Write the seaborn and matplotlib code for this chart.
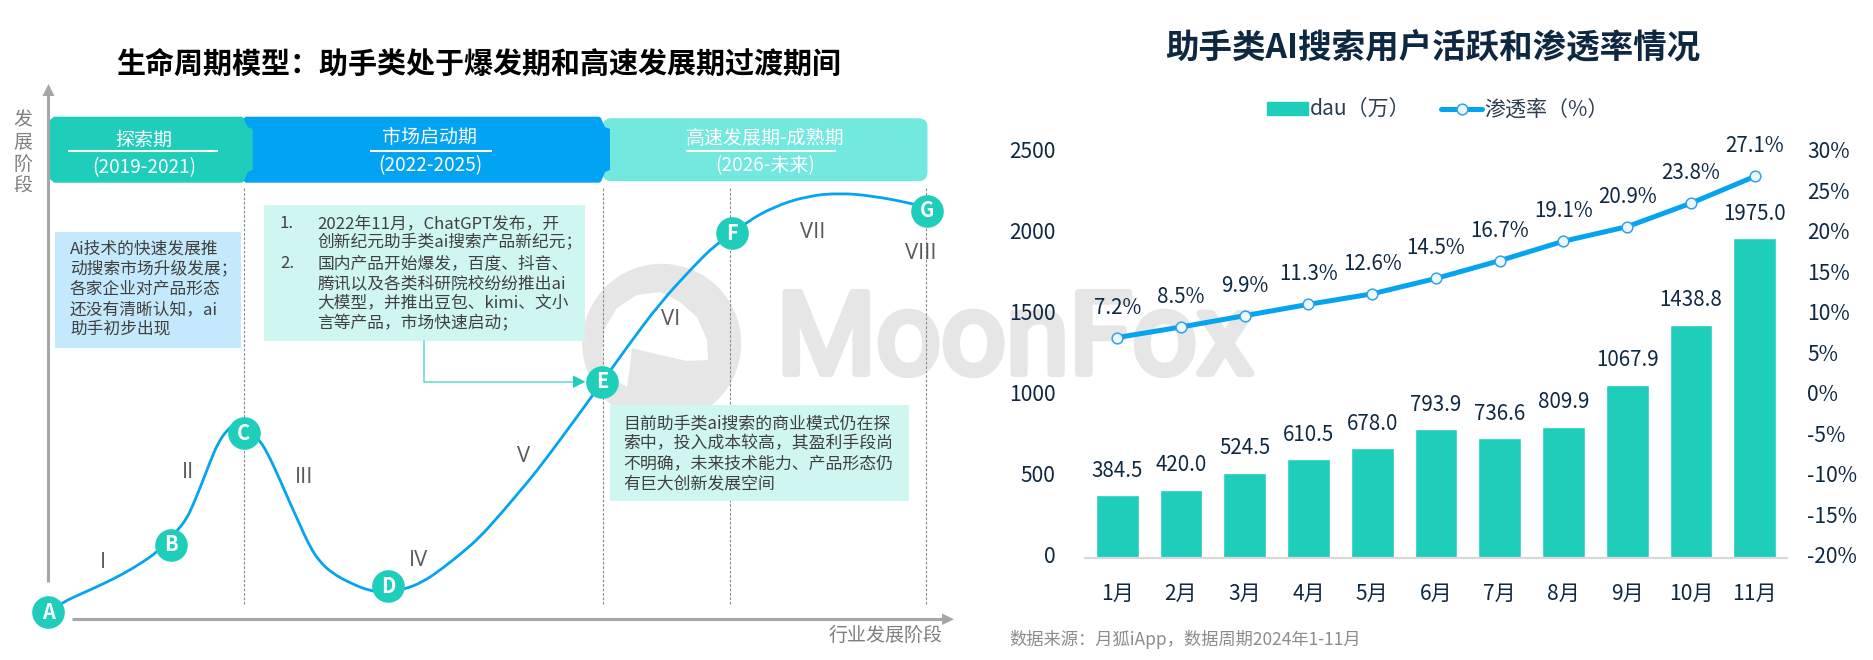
import matplotlib
matplotlib.use("Agg")
import matplotlib.pyplot as plt
from matplotlib.patches import Polygon, Rectangle, FancyBboxPatch, Patch, PathPatch
from matplotlib.path import Path
from matplotlib.lines import Line2D
from matplotlib.transforms import ScaledTranslation
import matplotlib.patheffects as pe
import seaborn as sns
import pandas as pd

sns.set_theme(style="white")
plt.rcParams['font.family'] = ['Noto Sans CJK SC', 'DejaVu Sans']
plt.rcParams['axes.unicode_minus'] = False

# ---- right chart data
months = ['1月','2月','3月','4月','5月','6月','7月','8月','9月','10月','11月']
dau = [384.5,420.0,524.5,610.5,678.0,793.9,736.6,809.9,1067.9,1438.8,1975.0]
rate = [7.2,8.5,9.9,11.3,12.6,14.5,16.7,19.1,20.9,23.8,27.1]
left_ticks = [0,500,1000,1500,2000,2500]
right_ticks = [-20,-15,-10,-5,0,5,10,15,20,25,30]

# ---- left diagram data (the diagram has no value scale: read in picture units)
curve_x = [48,63,83,103,123,143,157,167,178,187,193,202,210,218,227,235,244,260,270,280,290,300,310,320,332,350,370,388,405,423,443,463,480,497,510,520,536,560,593,627,660,693,715,747,773,807,840,873,910,927]
curve_y = [612,602,593,584,574,562,552,541,530,518,505,483,462,443,430,424,425,440,458,480,503,525,547,562,573,583,591,593,589,582,568,552,537,518,503,491,472,440,395,347,303,267,245,222,207,196,193,196,203,208]
stage_names = list('ABCDEFG')
stage_x = [48.3,171,243.7,388.3,602.3,731.7,927]
stage_y = [612.3,544.7,433.3,586.3,382,233.3,210.7]
roman = ['I','II','III','IV','V','VI','VII','VIII']
roman_x = [103,187.7,304,419,524,670.7,813,920.7]
roman_y = [562,472.7,477.3,560.7,456.7,319.3,233,253.3]
divider_x = [244.3,603.3,730.3,926.3]
phase_names = ['探索期','市场启动期','高速发展期-成熟期']
phase_years = ['(2019-2021)','(2022-2025)','(2026-未来)']
box_blue = ['Ai技术的快速发展推','动搜索市场升级发展；','各家企业对产品形态','还没有清晰认知，ai','助手初步出现']
box_green = ['2022年11月，ChatGPT发布，开','创新纪元助手类ai搜索产品新纪元；','国内产品开始爆发，百度、抖音、','腾讯以及各类科研院校纷纷推出ai','大模型，并推出豆包、kimi、文小','言等产品，市场快速启动；']
box_note = ['目前助手类ai搜索的商业模式仍在探','索中，投入成本较高，其盈利手段尚','不明确，未来技术能力、产品形态仍','有巨大创新发展空间']

TEAL = '#1FCDBB'
BLUE = '#03A3F3'
MINT = '#72E8DE'
NAVY = '#0E2841'
GRAY = '#A6A6A6'
INK = '#404040'
W, H = 1874, 660
px = 0.72  # points per picture pixel at dpi 100

fig = plt.figure(figsize=(W/100, H/100), dpi=100, facecolor='white')
d = fig.add_axes([0, 0, 1, 1], zorder=0)
d.set_xlim(0, W); d.set_ylim(H, 0); d.axis('off')

# watermark
wm = '#E6E6E6'
d.add_patch(plt.Circle((661.7, 343.3), 79.5, color=wm, lw=0, zorder=0))
hole_x = [708,707,697,680,660,637,617,605,602,605,615,627,630,632,660,687]
hole_y = [360,340,317,302,292,295,308,328,350,368,380,387,367,348,355,361]
d.add_patch(Polygon(list(zip(hole_x, hole_y)), closed=True, color='white', lw=0, zorder=0.1))
d.text(1015, 342.5, 'MoonFox', family='Roboto', fontsize=114*px, color=wm, ha='center', va='center', zorder=0.2,
       path_effects=[pe.withStroke(linewidth=7*px, foreground=wm)])

# titles
d.text(479, 64, '生命周期模型：助手类处于爆发期和高速发展期过渡期间', fontsize=29*px, weight='bold',
       color='black', ha='center', va='center')
d.text(1433, 49, '助手类AI搜索用户活跃和渗透率情况', fontsize=33.5*px, weight='bold',
       color=NAVY, ha='center', va='center')

# phase bands (right-most first so each tab overlaps the next)
def band(x0, x1, color, tab, z):
    if tab:
        pts = [(x0+4,116.7),(x1-2,116.7),(x1,118),(x1+2,123),(x1+4,127),(x1+9,129),(x1+9,170),
               (x1+4,172),(x1+2,177),(x1,181.5),(x1-2,182.7),(x0+4,182.7),(x0,179),(x0,120)]
        d.add_patch(Polygon(pts, closed=True, color=color, lw=0, zorder=z))
    else:
        d.add_patch(FancyBboxPatch((x0+5,121.7), x1-x0-10, 56, boxstyle='round,pad=0,rounding_size=5',
                                   mutation_aspect=1, lw=5, ec=color, fc=color, zorder=z, joinstyle='round'))
band(601, 929, MINT, False, 1.0)
band(241.7, 601, BLUE, True, 1.1)
band(50, 243.7, TEAL, True, 1.2)

for name, yr, cx, y0, y1, ux0, ux1 in [
    (phase_names[0], phase_years[0], 144, 140, 167.7, 68, 218),
    (phase_names[1], phase_years[1], 430, 137.3, 165.3, 370, 491.7),
    (phase_names[2], phase_years[2], 765, 138, 165.7, 686.4, 836)]:
    d.text(cx, y0, name, fontsize=19*px, color='white', ha='center', va='center', zorder=2)
    d.text(cx, y1, yr, fontsize=19*px, color='white', ha='center', va='center', zorder=2)
    d.plot([ux0, ux1], [150.7, 150.7], color='white', lw=1.5, zorder=2, solid_capstyle='butt')

# axes arrows
d.plot([48.5, 48.5], [581.7, 90], color=GRAY, lw=2.2, solid_capstyle='butt', zorder=1)
d.add_patch(Polygon([(48.5,84),(42.5,96),(54.5,96)], closed=True, color=GRAY, lw=0, zorder=1))
d.plot([72, 946], [619.3, 619.3], color=GRAY, lw=2.2, solid_capstyle='butt', zorder=1)
d.add_patch(Polygon([(954,619.3),(942,613.5),(942,625)], closed=True, color=GRAY, lw=0, zorder=1))
d.text(23, 153, '\n'.join('发展阶段'), fontsize=19*px, color='#7F7F7F', ha='center', va='center', linespacing=1.05)
d.text(942.7, 635, '行业发展阶段', fontsize=19*px, color='#7F7F7F', ha='right', va='center')

# dividers
for x in divider_x:
    d.plot([x, x], [188, 605], color='#8C8C8C', lw=0.8, ls=(0,(2.5,1.5)), zorder=0.5)

# text boxes
d.add_patch(Rectangle((55,232), 186, 115.7, color='#C5E9FC', lw=0, zorder=1.5))
d.add_patch(Rectangle((264,205.3), 321, 135.4, color='#CFF6F0', lw=0, zorder=1.5))
d.add_patch(Rectangle((609.7,405), 299.3, 96, color='#CFF6F0', lw=0, zorder=1.5))
for i, s in enumerate(box_blue):
    d.text(70, 249.3+20*i, s, fontsize=16.7*px, color=INK, va='center', zorder=2)
for i, s in enumerate(box_green):
    d.text(317.3, 223.3+20*i, s, fontsize=16.7*px, color=INK, va='center', zorder=2)
d.text(280, 223.3, '1.', fontsize=16.7*px, color=INK, va='center', zorder=2)
d.text(280, 263.3, '2.', fontsize=16.7*px, color=INK, va='center', zorder=2)
for i, s in enumerate(box_note):
    d.text(623.5, 423.3+20*i, s, fontsize=16.9*px, color=INK, va='center', zorder=2)

# connector
d.plot([424.4, 424.4, 575], [340.7, 381.7, 381.7], color='#5FD9CC', lw=1.1, zorder=2)
d.add_patch(Polygon([(585.5,381.7),(573,375.5),(573,388)], closed=True, color=TEAL, lw=0, zorder=2))

# curve drawn as a smooth path through the anchors
anchors = list(zip(curve_x, curve_y))
verts, codes = [anchors[0]], [Path.MOVETO]
for a, b in zip(anchors[1:-1], anchors[2:]):
    verts += [a, ((a[0]+b[0])/2, (a[1]+b[1])/2)]
    codes += [Path.CURVE3, Path.CURVE3]
verts.append(anchors[-1]); codes.append(Path.LINETO)
d.add_patch(PathPatch(Path(verts, codes), fc='none', ec='#05A4F0', lw=2.0, zorder=3))

stages = pd.DataFrame({'x': stage_x, 'y': stage_y})
sns.scatterplot(data=stages, x='x', y='y', s=(32.6*px)**2, color=TEAL, linewidth=0, ax=d, zorder=4)
d.set_xlim(0, W); d.set_ylim(H, 0); d.axis('off')
for n, x, y in zip(stage_names, stage_x, stage_y):
    d.text(x, y, n, fontsize=20*px, weight='bold', color='white', ha='center', va='center', zorder=5)
for n, x, y in zip(roman, roman_x, roman_y):
    d.text(x, y, n, fontsize=22*px, family='Open Sans', color='#595959', ha='center', va='center', zorder=5)

# ---- right chart
x0, x1, ytop, ybot = 1085.3, 1786.6, 153, 557.7
pos = [x0/W, 1-ybot/H, (x1-x0)/W, (ybot-ytop)/H]
ax = fig.add_axes(pos, zorder=2)
ax.patch.set_alpha(0)
frame = pd.DataFrame({'month': months, 'dau': dau, 'rate': rate})
sns.barplot(data=frame, x='month', y='dau', color=TEAL, saturation=1, width=0.67, ax=ax)
ax.set_ylim(0, 2500)
ax.set_yticks(left_ticks)
ax.set_xlabel(''); ax.set_ylabel('')
for s in ['top', 'left', 'right']:
    ax.spines[s].set_visible(False)
ax.spines['bottom'].set_color('#D9D9D9'); ax.spines['bottom'].set_linewidth(1.6)
ax.tick_params(axis='x', length=0, pad=18, labelsize=21*px, labelcolor=NAVY)
ax.tick_params(axis='y', length=0, pad=21.5, labelsize=21*px, labelcolor=NAVY)
for c in ax.containers:
    ax.bar_label(c, labels=[f'{v:.1f}' for v in dau], padding=9.6, fontsize=20.5*px, color=NAVY)

ax2 = ax.twinx()
ax2.patch.set_alpha(0)
sns.lineplot(data=frame, x='month', y='rate', sort=False, color='#05A4F0', lw=3.6, marker='o', ms=7.7,
             mfc='#E8F8FF', mec='#3AA0E0', mew=1.1, ax=ax2)
ax2.set_ylim(-20, 30)
ax2.set_yticks(right_ticks)
ax2.set_yticklabels([f'{t}%' for t in right_ticks])
ax2.set_xlabel(''); ax2.set_ylabel('')
for s in ax2.spines.values():
    s.set_visible(False)
ax2.tick_params(axis='y', length=0, pad=15, labelsize=21*px, labelcolor=NAVY)
ax.set_xlim(-0.5, 10.5)
lift = ScaledTranslation(0, 3/100, fig.dpi_scale_trans)
for a in (ax, ax2):
    for lab in a.get_yticklabels():
        lab.set_transform(lab.get_transform() + lift)
for i, v in enumerate(rate):
    ax2.annotate(f'{v}%', (i, v), xytext=(0, 30*px), textcoords='offset points', ha='center', va='center',
                 fontsize=20.5*px, color=NAVY)

handles = [Patch(color=TEAL, label='dau（万）'),
           Line2D([], [], color='#05A4F0', lw=3.6, marker='o', ms=7.7, mfc='#E8F8FF', mec='#3AA0E0', mew=1.1, label='渗透率（%）')]
fig.legend(handles=handles, loc='center', bbox_to_anchor=(1438/W, 1-110/H), ncol=2, frameon=False,
           fontsize=21*px, labelcolor='#2C3E50', handlelength=1.95, handleheight=0.55, handletextpad=0.1, columnspacing=1.45)

d.text(1009.5, 639.3, '数据来源：月狐iApp，数据周期2024年1-11月', fontsize=17.3*px, color='#8C8C8C', va='center')

fig.savefig('out.png', dpi=100, facecolor='white')
